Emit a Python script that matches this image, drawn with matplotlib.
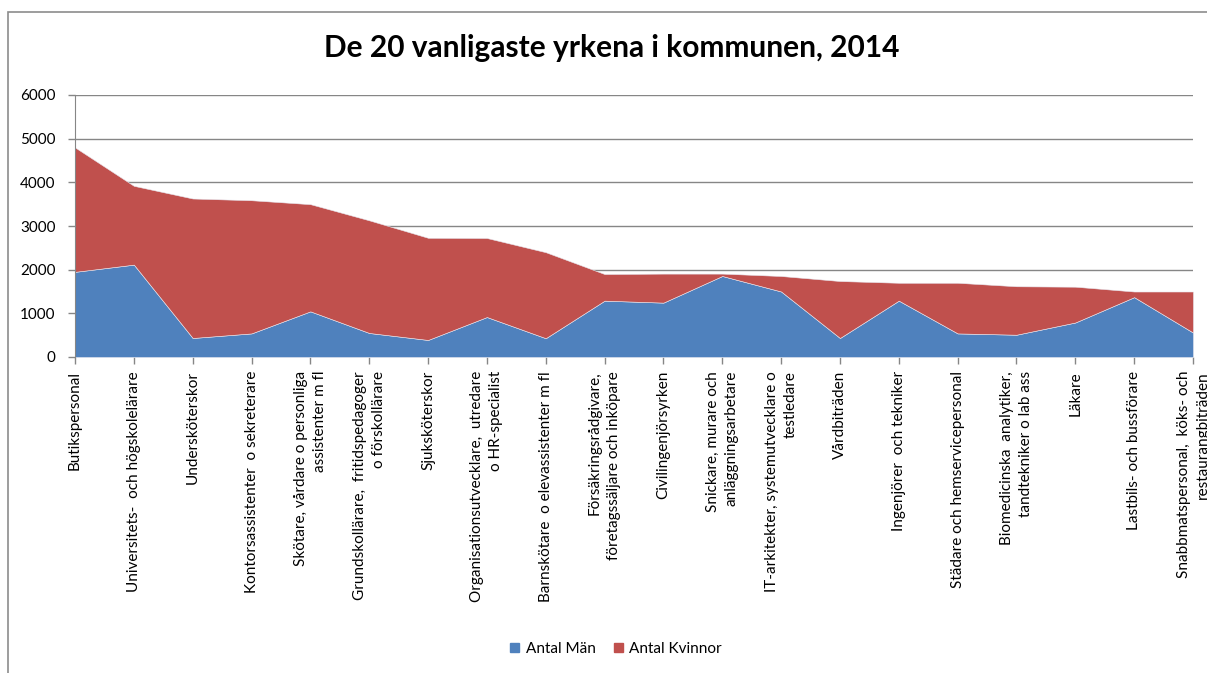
import matplotlib.pyplot as plt
import numpy as np
from matplotlib.patches import Rectangle, Patch

plt.rcParams['font.family'] = ['Lato', 'DejaVu Sans']

# Data
yrken = [
    "Butikspersonal",
    "Universitets-  och högskolelärare",
    "Undersköterskor",
    "Kontorsassistenter  o sekreterare",
    "Skötare, vårdare o personliga\nassistenter m fl",
    "Grundskollärare,  fritidspedagoger\no förskollärare",
    "Sjuksköterskor",
    "Organisationsutvecklare,  utredare\no HR-specialist",
    "Barnskötare  o elevassistenter m fl",
    "Försäkringsrådgivare,\nföretagssäljare och inköpare",
    "Civilingenjörsyrken",
    "Snickare, murare och\nanläggningsarbetare",
    "IT-arkitekter, systemutvecklare o\ntestledare",
    "Vårdbiträden",
    "Ingenjörer  och tekniker",
    "Städare och hemservicepersonal",
    "Biomedicinska  analytiker,\ntandtekniker o lab ass",
    "Läkare",
    "Lastbils- och bussförare",
    "Snabbmatspersonal,  köks- och\nrestaurangbiträden",
]
antal_man = [1950, 2115, 435, 540, 1045, 550, 390, 915, 430, 1290,
             1245, 1855, 1500, 435, 1290, 540, 510, 790, 1370, 560]
antal_totalt = [4800, 3920, 3630, 3590, 3500, 3130, 2730, 2725, 2400, 1900,
                1910, 1910, 1855, 1740, 1700, 1700, 1620, 1610, 1500, 1500]
antal_kvinnor = [t - m for t, m in zip(antal_totalt, antal_man)]

W, H = 1207, 673
fig = plt.figure(figsize=(W / 100, H / 100), dpi=100)

# chart frame
fig.patches.append(Rectangle((8 / W, -0.1), 1.2, 1 - 12 / H + 0.1,
                             transform=fig.transFigure, fill=False,
                             edgecolor="#8c8c8c", lw=1.2))

ax = fig.add_axes([75 / W, 1 - 357 / H, (1193 - 75) / W, (357 - 95) / H])
x = np.arange(len(yrken))
ax.stackplot(x, antal_man, antal_kvinnor, colors=["#4F81BD", "#C0504D"],
             edgecolor="#e8e8f0", linewidth=0.4)

ax.set_xlim(0, len(yrken) - 1)
ax.set_ylim(0, 6000)
ax.set_yticks(range(0, 6001, 1000))
ax.set_xticks(x)
ax.set_xticklabels(yrken, rotation=90, fontsize=11, ha="center", va="top",
                   multialignment="right", linespacing=1.45)
ax.tick_params(axis="y", labelsize=11, length=5, color="#868686", width=1, pad=9)
ax.tick_params(axis="x", length=5, color="#868686", width=1, pad=5)

ax.grid(axis="y", color="#868686", lw=1)
ax.set_axisbelow(True)
for s in ["top", "right", "bottom"]:
    ax.spines[s].set_visible(False)
ax.spines["left"].set_color("#868686")

fig.text(612 / W, 1 - 48 / H, "De 20 vanligaste yrkena i kommunen, 2014",
         ha="center", va="center", fontsize=21.5, fontweight="bold")

handles = [Patch(color="#4F81BD", label="Antal Män"),
           Patch(color="#C0504D", label="Antal Kvinnor")]
fig.legend(handles=handles, loc="center", bbox_to_anchor=(616 / W, 1 - 649 / H),
           ncol=2, frameon=False, fontsize=11, handlelength=0.6, handleheight=0.6,
           handletextpad=0.4, columnspacing=1.2)

fig.savefig("out.png", dpi=100)
